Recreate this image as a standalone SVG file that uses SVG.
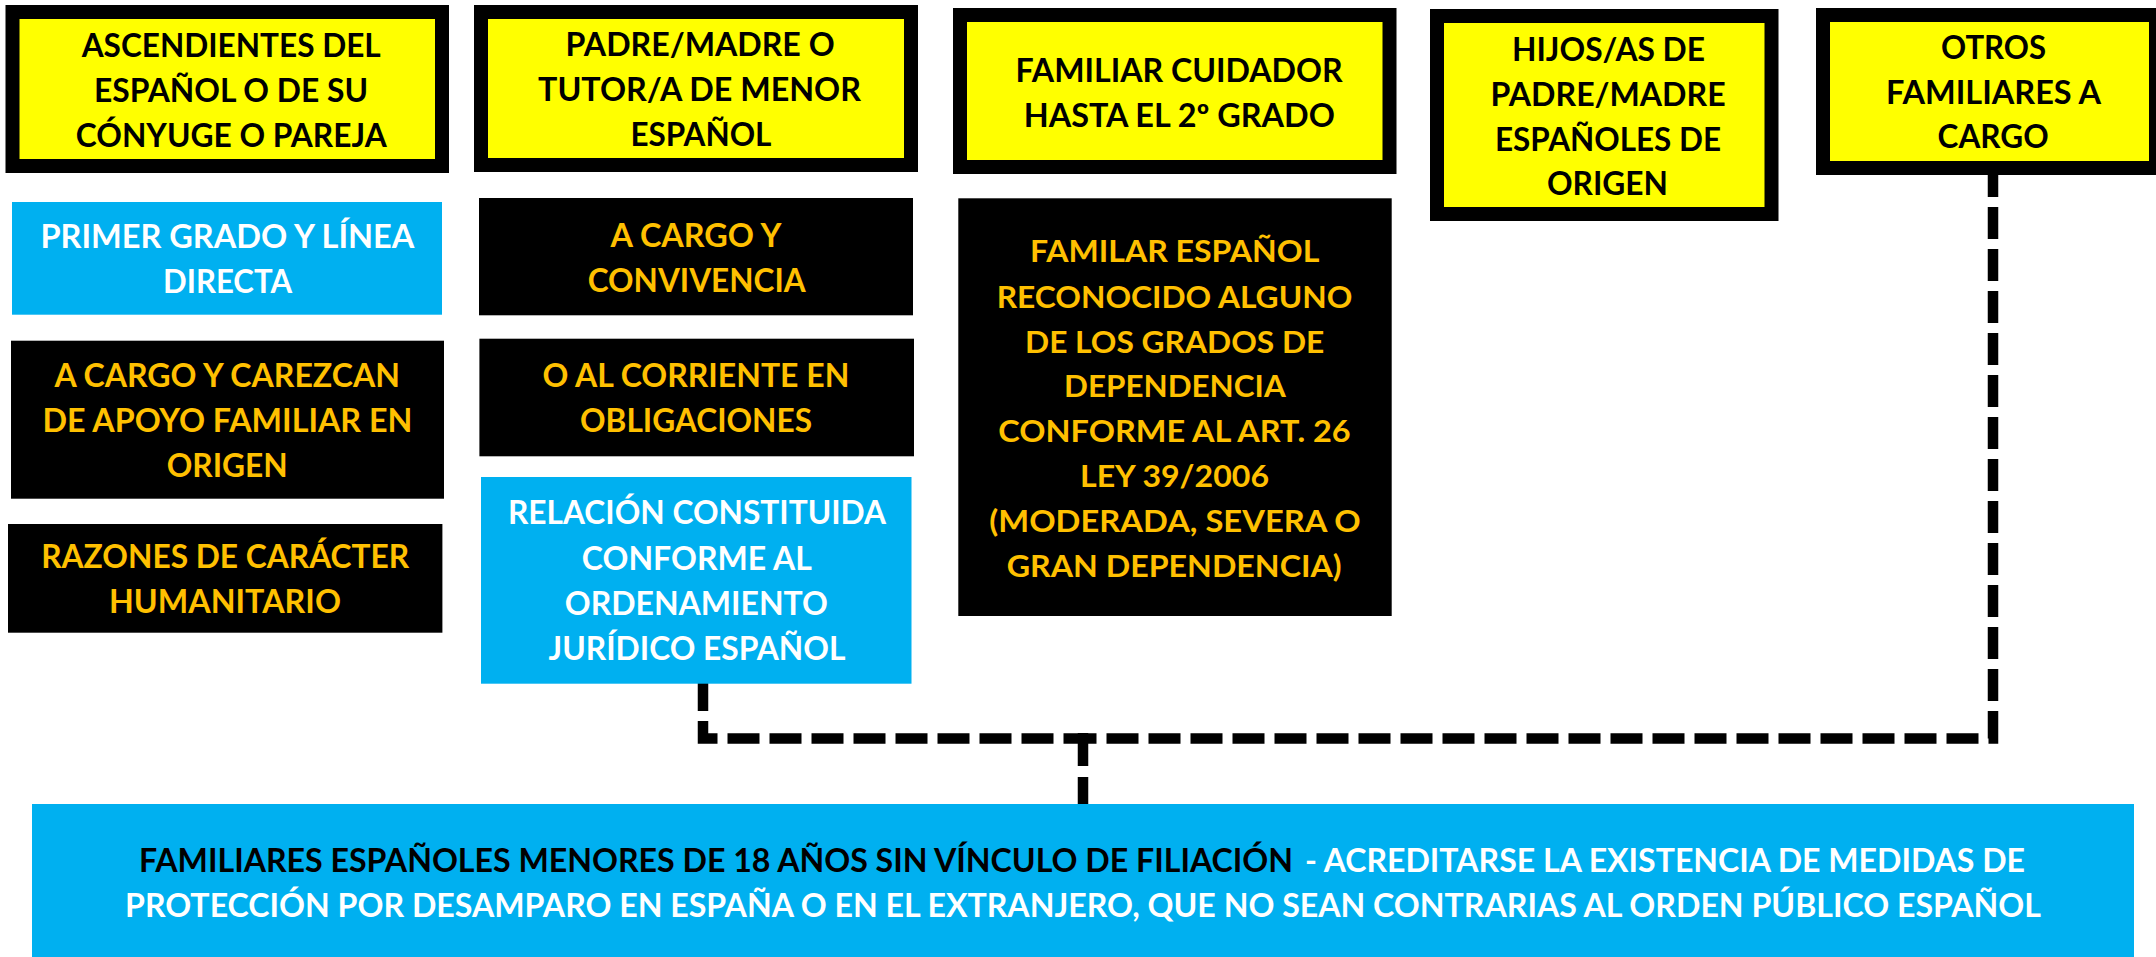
<svg xmlns="http://www.w3.org/2000/svg" width="2156" height="957" viewBox="0 0 2156 957">
<style>
.yb{fill:#FFFF00;stroke:#000;stroke-width:14}
.bk{fill:#000}
.cy{fill:#00B0F0}
.t{font-family:Lato,"Liberation Sans",sans-serif;font-weight:700;font-size:32px}
.s{font-size:30px}
.tb{fill:#000}
.to{fill:#FFC000}
.tw{fill:#fff}
.conn{fill:none;stroke:#000;stroke-width:10.5;stroke-dasharray:32 10}
</style>
<rect width="2156" height="957" fill="#fff"/>

<g id="connectors">
<path class="conn" d="M703 679 V738.5 H1083"/>
<path class="conn" d="M1993 175 V738.5 H1083" stroke-dashoffset="10"/>
<path class="conn" d="M1083 733 V804" style="stroke-dasharray:33 11"/>
</g>

<g id="n-ascendientes">
<rect class="yb" x="12.5" y="12" width="429.5" height="154"/>
<text class="t tb" x="81.7" y="57" textLength="299" lengthAdjust="spacingAndGlyphs">ASCENDIENTES DEL</text>
<text class="t tb" x="94" y="102" textLength="274" lengthAdjust="spacingAndGlyphs">ESPAÑOL O DE SU</text>
<text class="t tb" x="75.8" y="147" textLength="311" lengthAdjust="spacingAndGlyphs">CÓNYUGE O PAREJA</text>
</g>

<g id="n-padre">
<rect class="yb" x="481" y="12" width="430" height="153"/>
<text class="t tb" x="565.6" y="56" textLength="269" lengthAdjust="spacingAndGlyphs">PADRE/MADRE O</text>
<text class="t tb" x="538" y="101" textLength="323" lengthAdjust="spacingAndGlyphs">TUTOR/A DE MENOR</text>
<text class="t tb" x="630.4" y="146" textLength="141" lengthAdjust="spacingAndGlyphs">ESPAÑOL</text>
</g>

<g id="n-cuidador">
<rect class="yb" x="960" y="15" width="429.5" height="152"/>
<text class="t tb" x="1015.6" y="81.5" textLength="327" lengthAdjust="spacingAndGlyphs">FAMILIAR CUIDADOR</text>
<text class="t tb" x="1023.8" y="126.5" textLength="311" lengthAdjust="spacingAndGlyphs">HASTA EL 2º GRADO</text>
</g>

<g id="n-hijos">
<rect class="yb" x="1437" y="16" width="334.5" height="198"/>
<text class="t tb" x="1512" y="60.5" textLength="193" lengthAdjust="spacingAndGlyphs">HIJOS/AS DE</text>
<text class="t tb" x="1490.6" y="106" textLength="235" lengthAdjust="spacingAndGlyphs">PADRE/MADRE</text>
<text class="t tb" x="1495" y="150.7" textLength="226" lengthAdjust="spacingAndGlyphs">ESPAÑOLES DE</text>
<text class="t tb" x="1547" y="195" textLength="121" lengthAdjust="spacingAndGlyphs">ORIGEN</text>
</g>

<g id="n-otros">
<rect class="yb" x="1823" y="15" width="333" height="153"/>
<text class="t tb" x="1941" y="59.3" textLength="105" lengthAdjust="spacingAndGlyphs">OTROS</text>
<text class="t tb" x="1886" y="104" textLength="215" lengthAdjust="spacingAndGlyphs">FAMILIARES A</text>
<text class="t tb" x="1937.6" y="148.3" textLength="111" lengthAdjust="spacingAndGlyphs">CARGO</text>
</g>

<g id="n-primer">
<rect class="cy" x="12" y="202" width="430" height="112.7"/>
<text class="t tw" x="40.4" y="248" textLength="374" lengthAdjust="spacingAndGlyphs">PRIMER GRADO Y LÍNEA</text>
<text class="t tw" x="163" y="293.3" textLength="129" lengthAdjust="spacingAndGlyphs">DIRECTA</text>
</g>

<g id="n-carezcan">
<rect class="bk" x="11" y="340.7" width="433" height="158"/>
<text class="t to" x="54.5" y="386.5" textLength="345.5" lengthAdjust="spacingAndGlyphs">A CARGO Y CAREZCAN</text>
<text class="t to" x="42.4" y="431.7" textLength="370" lengthAdjust="spacingAndGlyphs">DE APOYO FAMILIAR EN</text>
<text class="t to" x="166.7" y="476.7" textLength="121" lengthAdjust="spacingAndGlyphs">ORIGEN</text>
</g>

<g id="n-razones">
<rect class="bk" x="8" y="524" width="434.4" height="108.7"/>
<text class="t to" x="41.2" y="568.3" textLength="368" lengthAdjust="spacingAndGlyphs">RAZONES DE CARÁCTER</text>
<text class="t to" x="109" y="613.3" textLength="232" lengthAdjust="spacingAndGlyphs">HUMANITARIO</text>
</g>

<g id="n-convivencia">
<rect class="bk" x="479" y="198" width="434" height="117.3"/>
<text class="t to" x="610.6" y="246.7" textLength="171" lengthAdjust="spacingAndGlyphs">A CARGO Y</text>
<text class="t to" x="587.7" y="292" textLength="218" lengthAdjust="spacingAndGlyphs">CONVIVENCIA</text>
</g>

<g id="n-corriente">
<rect class="bk" x="479.4" y="338.7" width="434.6" height="117.6"/>
<text class="t to" x="542.4" y="386.7" textLength="307" lengthAdjust="spacingAndGlyphs">O AL CORRIENTE EN</text>
<text class="t to" x="580" y="431.7" textLength="232" lengthAdjust="spacingAndGlyphs">OBLIGACIONES</text>
</g>

<g id="n-relacion">
<rect class="cy" x="481" y="477" width="430.5" height="206.7"/>
<text class="t tw" x="508" y="524" textLength="378" lengthAdjust="spacingAndGlyphs">RELACIÓN CONSTITUIDA</text>
<text class="t tw" x="581.8" y="570" textLength="230" lengthAdjust="spacingAndGlyphs">CONFORME AL</text>
<text class="t tw" x="564.8" y="615" textLength="263" lengthAdjust="spacingAndGlyphs">ORDENAMIENTO</text>
<text class="t tw" x="548.5" y="660" textLength="297" lengthAdjust="spacingAndGlyphs">JURÍDICO ESPAÑOL</text>
</g>

<g id="n-dependencia">
<rect class="bk" x="958.3" y="198.3" width="433.4" height="417.7"/>
<text class="t s to" x="1030" y="261.7" textLength="289.3" lengthAdjust="spacingAndGlyphs">FAMILAR ESPAÑOL</text>
<text class="t s to" x="996.7" y="307.7" textLength="355.6" lengthAdjust="spacingAndGlyphs">RECONOCIDO ALGUNO</text>
<text class="t s to" x="1025" y="352.7" textLength="299.3" lengthAdjust="spacingAndGlyphs">DE LOS GRADOS DE</text>
<text class="t s to" x="1064" y="397.3" textLength="221.7" lengthAdjust="spacingAndGlyphs">DEPENDENCIA</text>
<text class="t s to" x="998.3" y="442.3" textLength="352.4" lengthAdjust="spacingAndGlyphs">CONFORME AL ART. 26</text>
<text class="t s to" x="1080" y="487.3" textLength="189" lengthAdjust="spacingAndGlyphs">LEY 39/2006</text>
<text class="t s to" x="989.3" y="532.3" textLength="371.4" lengthAdjust="spacingAndGlyphs">(MODERADA, SEVERA O</text>
<text class="t s to" x="1006.7" y="576.7" textLength="335" lengthAdjust="spacingAndGlyphs">GRAN DEPENDENCIA)</text>
</g>

<g id="n-menores">
<rect class="cy" x="32" y="804" width="2102" height="153"/>
<text class="t tb" x="139" y="872" textLength="1154" lengthAdjust="spacingAndGlyphs">FAMILIARES ESPAÑOLES MENORES DE 18 AÑOS SIN VÍNCULO DE FILIACIÓN</text>
<text class="t tw" x="1305" y="872" textLength="720" lengthAdjust="spacingAndGlyphs">- ACREDITARSE LA EXISTENCIA DE MEDIDAS DE</text>
<text class="t tw" x="125" y="917" textLength="1916" lengthAdjust="spacingAndGlyphs">PROTECCIÓN POR DESAMPARO EN ESPAÑA O EN EL EXTRANJERO, QUE NO SEAN CONTRARIAS AL ORDEN PÚBLICO ESPAÑOL</text>
</g>
</svg>
